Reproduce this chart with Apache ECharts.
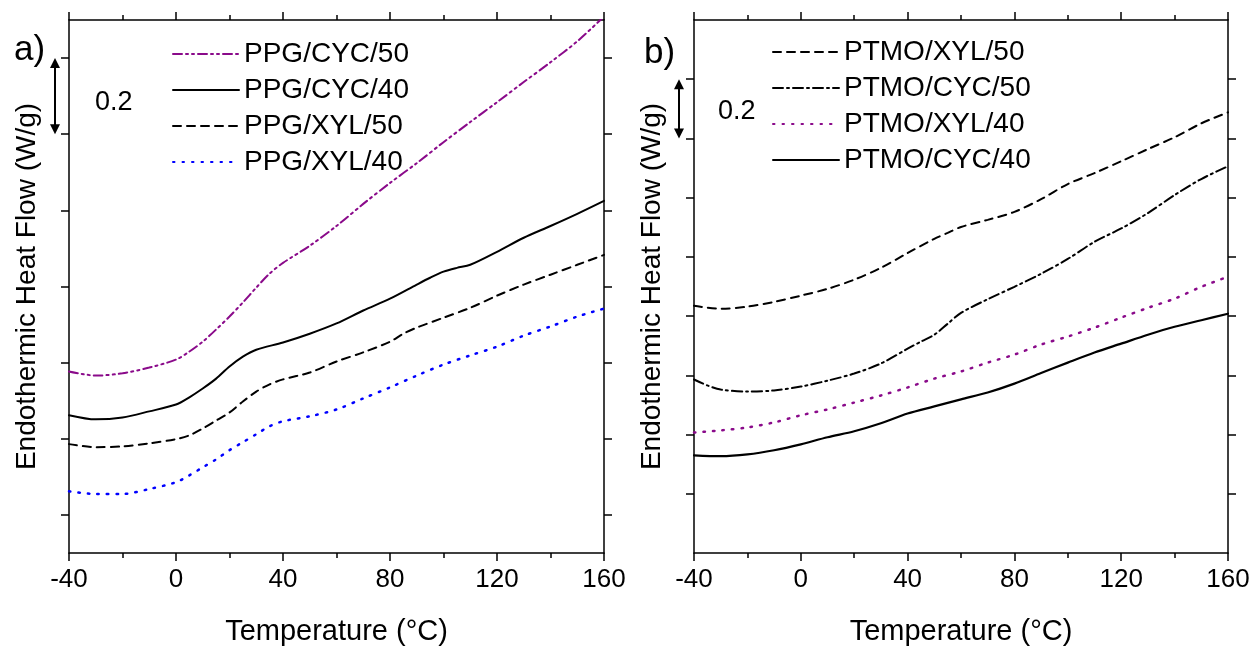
<!DOCTYPE html>
<html>
<head>
<meta charset="utf-8">
<script src="https://cdn.jsdelivr.net/npm/echarts@6/dist/echarts.min.js"></script>
<style>
html,body{margin:0;padding:0;background:#fff;}
#chart{width:1258px;height:651px;}
</style>
</head>
<body>
<div id="chart"></div>
<script>
// ---------- Data (temperature in °C, heat flow in W/g, offset curves) ----------
const xTicksLabels = [-40, 0, 40, 80, 120, 160];
const leftTickValues = [0.1, 0.3, 0.5, 0.7, 0.9, 1.1, 1.3];
const rightTickValues = [0.2, 0.4, 0.6, 0.8, 1.0, 1.2, 1.4, 1.6];

// Panel a)
const tPpgCyc50 = [-40,-30,-20,-10,0,5,10,15,20,25,30,35,40,50,60,70,80,90,100,110,120,130,140,150,160];
const vPpgCyc50 = [0.477,0.466,0.472,0.487,0.508,0.529,0.555,0.587,0.621,0.658,0.697,0.734,0.762,0.807,0.859,0.917,0.972,1.024,1.079,1.132,1.184,1.237,1.289,1.344,1.409];

const tPpgCyc40 = [-40,-30,-20,-10,0,5,10,15,20,25,30,40,50,60,70,80,90,95,100,105,110,120,130,140,150,160];
const vPpgCyc40 = [0.362,0.351,0.356,0.372,0.390,0.409,0.432,0.458,0.490,0.516,0.534,0.553,0.576,0.603,0.637,0.668,0.705,0.723,0.739,0.749,0.757,0.791,0.828,0.859,0.891,0.925];

const tPpgXyl50 = [-40,-30,-20,-10,0,5,10,15,20,25,30,35,40,50,60,70,80,85,90,100,110,120,130,140,150,160];
const vPpgXyl50 = [0.286,0.278,0.280,0.288,0.299,0.309,0.327,0.348,0.369,0.398,0.424,0.443,0.456,0.474,0.503,0.527,0.555,0.576,0.592,0.618,0.644,0.676,0.705,0.731,0.757,0.783];

const tPpgXyl40 = [-40,-30,-20,-10,0,5,10,15,20,25,30,35,40,50,60,70,80,90,100,110,120,130,140,150,160];
const vPpgXyl40 = [0.162,0.155,0.155,0.168,0.186,0.204,0.225,0.246,0.270,0.291,0.312,0.333,0.346,0.359,0.377,0.406,0.435,0.466,0.495,0.519,0.542,0.571,0.595,0.621,0.642];

// Panel b)
const tPtmoXyl50 = [-40,-30,-20,-10,0,10,20,30,40,50,55,60,70,80,90,100,110,120,130,140,150,160];
const vPtmoXyl50 = [0.835,0.825,0.832,0.848,0.869,0.892,0.923,0.963,1.013,1.061,1.081,1.101,1.125,1.152,1.195,1.246,1.283,1.323,1.364,1.404,1.451,1.488];

const tPtmoCyc50 = [-40,-35,-30,-20,-10,0,10,20,30,40,45,50,55,60,70,80,90,100,110,120,130,140,150,160];
const vPtmoCyc50 = [0.586,0.566,0.552,0.545,0.549,0.562,0.582,0.606,0.640,0.690,0.714,0.737,0.774,0.811,0.857,0.899,0.943,0.993,1.051,1.096,1.148,1.209,1.263,1.306];

const tPtmoXyl40 = [-40,-30,-20,-10,0,10,20,30,40,50,60,70,80,90,100,110,120,130,140,150,160];
const vPtmoXyl40 = [0.407,0.414,0.424,0.441,0.465,0.485,0.508,0.532,0.559,0.589,0.613,0.643,0.670,0.704,0.731,0.761,0.795,0.828,0.859,0.899,0.933];

const tPtmoCyc40 = [-40,-30,-20,-10,0,10,20,30,40,50,60,70,80,90,100,110,120,130,140,150,160];
const vPtmoCyc40 = [0.330,0.327,0.333,0.347,0.367,0.391,0.411,0.438,0.471,0.495,0.519,0.542,0.572,0.608,0.643,0.677,0.707,0.737,0.764,0.786,0.808];

const namesA = ['PPG/CYC/50','PPG/CYC/40','PPG/XYL/50','PPG/XYL/40'];
const namesB = ['PTMO/XYL/50','PTMO/CYC/50','PTMO/XYL/40','PTMO/CYC/40'];

// ---------- Chart ----------
const FONT = 'Liberation Sans, Arial, sans-serif';
const zip = (t, v) => t.map((x, i) => [x, v[i]]);
const chart = echarts.init(document.getElementById('chart'), null, {renderer: 'canvas'});

const axisLine = {show: true, onZero: false, lineStyle: {color: '#000', width: 1.5}};

function xAx(gridIndex, position, withLabels) {
  return {
    type: 'value', gridIndex, position, min: -40, max: 160, interval: 40,
    axisLine,
    axisTick: {show: true, inside: false, length: 8, lineStyle: {color: '#000', width: 1.5}},
    minorTick: {show: true, splitNumber: 2, length: 5, lineStyle: {color: '#000', width: 1.5}},
    splitLine: {show: false}, minorSplitLine: {show: false},
    axisLabel: {show: withLabels, color: '#000', fontSize: 26, fontFamily: FONT, margin: 14,
      customValues: xTicksLabels},
    name: withLabels ? 'Temperature (°C)' : '',
    nameLocation: 'middle', nameGap: 64,
    nameTextStyle: {color: '#000', fontSize: 29, fontFamily: FONT}
  };
}
function yAx(gridIndex, position, max, ticks, withName) {
  return {
    type: 'value', gridIndex, position, min: 0, max: max,
    axisLine,
    axisTick: {show: true, inside: false, length: 8, lineStyle: {color: '#000', width: 1.5}, customValues: ticks},
    axisLabel: {show: false, customValues: ticks},
    splitLine: {show: false},
    name: withName ? 'Endothermic Heat Flow (W/g)' : '',
    nameLocation: 'middle', nameGap: 28,
    nameTextStyle: {color: '#000', fontSize: 28, fontFamily: FONT}
  };
}

function ser(name, t, v, xi, yi, color, type, width) {
  return {
    name, type: 'line', xAxisIndex: xi, yAxisIndex: yi,
    data: zip(t, v), symbol: 'none', showSymbol: false, smooth: 0.3, clip: true,
    lineStyle: {color, type, width, cap: 'round'}, itemStyle: {color},
    animation: false
  };
}

const legendBase = {
  orient: 'vertical', itemWidth: 66, itemHeight: 14, itemGap: 8, selectedMode: false,
  textStyle: {color: '#000', fontSize: 28, fontFamily: FONT},
  itemStyle: {color: 'rgba(0,0,0,0)', borderColor: 'rgba(0,0,0,0)', borderWidth: 0}
};

const PURPLE = '#8a0a8a';
const option = {
  animation: false,
  backgroundColor: '#fff',
  grid: [
    {left: 69, top: 20, width: 535, height: 535},
    {left: 694, top: 20, width: 534, height: 534}
  ],
  xAxis: [xAx(0, 'bottom', true), xAx(0, 'top', false), xAx(1, 'bottom', true), xAx(1, 'top', false)],
  yAxis: [yAx(0, 'left', 1.4, leftTickValues, true), yAx(0, 'right', 1.4, leftTickValues, false),
          yAx(1, 'left', 1.8, rightTickValues, true), yAx(1, 'right', 1.8, rightTickValues, false)],
  legend: [
    Object.assign({data: namesA, left: 167, top: 35}, legendBase),
    Object.assign({data: namesB, left: 767, top: 33}, legendBase)
  ],
  series: [
    ser(namesA[0], tPpgCyc50, vPpgCyc50, 0, 0, PURPLE, [9,4,2,4,2,4], 2),
    ser(namesA[1], tPpgCyc40, vPpgCyc40, 0, 0, '#000', 'solid', 2),
    ser(namesA[2], tPpgXyl50, vPpgXyl50, 0, 0, '#000', [8,6], 2),
    ser(namesA[3], tPpgXyl40, vPpgXyl40, 0, 0, '#0000ff', [1.5,8], 2.5),
    ser(namesB[0], tPtmoXyl50, vPtmoXyl50, 2, 2, '#000', [8,6], 2),
    ser(namesB[1], tPtmoCyc50, vPtmoCyc50, 2, 2, '#000', [10,4,2,4], 2),
    ser(namesB[2], tPtmoXyl40, vPtmoXyl40, 2, 2, PURPLE, [1.5,8], 2.5),
    ser(namesB[3], tPtmoCyc40, vPtmoCyc40, 2, 2, '#000', 'solid', 2.2)
  ]
};
chart.setOption(option);

// annotations: panel letters, scale arrows
function arrow(x, y1, y2) {
  const h = 10, w = 5;
  return [
    {type: 'line', shape: {x1: x, y1: y1 + h - 2, x2: x, y2: y2 - h + 2}, style: {stroke: '#000', lineWidth: 2}},
    {type: 'polygon', shape: {points: [[x, y1], [x - w, y1 + h], [x + w, y1 + h]]}, style: {fill: '#000'}},
    {type: 'polygon', shape: {points: [[x, y2], [x - w, y2 - h], [x + w, y2 - h]]}, style: {fill: '#000'}}
  ];
}
const la1 = chart.convertToPixel({yAxisIndex: 0}, 1.3), la2 = chart.convertToPixel({yAxisIndex: 0}, 1.1);
const ra1 = chart.convertToPixel({yAxisIndex: 2}, 1.6), ra2 = chart.convertToPixel({yAxisIndex: 2}, 1.4);
const txt = (x, y, s, size) => ({type: 'text', x, y, style: {text: s, fill: '#000', font: size + 'px ' + FONT, textAlign: 'left', textVerticalAlign: 'middle'}});
chart.setOption({
  graphic: [
    txt(14, 50, 'a)', 35),
    txt(644, 53, 'b)', 35),
    txt(95, 103, '0.2', 27),
    txt(718, 112, '0.2', 27),
    ...arrow(55, la1, la2),
    ...arrow(679, ra1, ra2)
  ]
});
</script>
</body>
</html>
